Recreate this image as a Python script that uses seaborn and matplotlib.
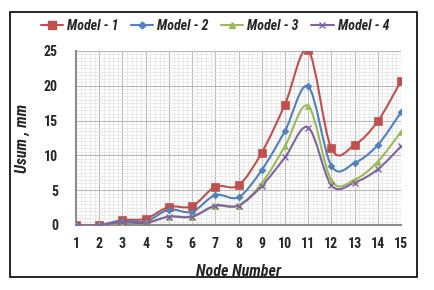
import numpy as np
import pandas as pd
import matplotlib
matplotlib.use('Agg')
import matplotlib.pyplot as plt
import seaborn as sns
from matplotlib.path import Path
from matplotlib.patches import PathPatch, Rectangle
from matplotlib.lines import Line2D
from matplotlib.ticker import MultipleLocator
from matplotlib.font_manager import FontProperties

nodes = list(range(1, 16))
model_1 = [0, 0, 0.7, 0.9, 2.6, 2.7, 5.5, 5.7, 10.4, 17.3, 25.1, 11.0, 11.5, 14.9, 20.7]
model_2 = [0, 0, 0.6, 0.5, 2.2, 1.9, 4.3, 4.0, 7.9, 13.5, 19.9, 8.5, 8.9, 11.5, 16.2]
model_3 = [0, 0, 0.3, 0.3, 1.2, 1.2, 2.7, 2.8, 6.0, 11.3, 17.1, 6.4, 6.5, 9.1, 13.4]
model_4 = [0, 0, 0.4, 0.3, 1.2, 1.2, 2.8, 2.8, 5.6, 9.7, 14.0, 5.7, 6.1, 8.0, 11.3]
labels = ['Model - 1', 'Model - 2', 'Model - 3', 'Model - 4']

colors = ['#C0504D', '#4F81BD', '#9BBB59', '#8064A2']
markers = ['s', 'D', '^', 'x']
msizes = [5.5, 3.5, 5, 5]

df = pd.DataFrame({'Node': nodes, labels[0]: model_1, labels[1]: model_2,
                   labels[2]: model_3, labels[3]: model_4})
long = df.melt(id_vars='Node', var_name='Model', value_name='Usum')

sns.set_style('white')
plt.rcParams['font.family'] = ['Roboto Condensed', 'DejaVu Sans']

fig = plt.figure(figsize=(4.34, 2.9), dpi=100)
fig.patches.append(Rectangle((10 / 434, 13 / 290), 407 / 434, 265 / 290,
                             transform=fig.transFigure, fill=False,
                             edgecolor='black', linewidth=1.2))
ax = fig.add_axes([76 / 434, 65 / 290, 325 / 434, 174 / 290])


def smooth_path(xs, ys):
    # Excel-like smoothed line through the points, as cubic bezier segments
    pts = np.column_stack([xs, ys]).astype(float)
    verts = [pts[0]]
    codes = [Path.MOVETO]
    n = len(pts)
    for i in range(n - 1):
        p0 = pts[max(i - 1, 0)]
        p1 = pts[i]
        p2 = pts[i + 1]
        p3 = pts[min(i + 2, n - 1)]
        c1 = p1 + (p2 - p0) / 6
        c2 = p2 - (p3 - p1) / 6
        verts += [c1, c2, p2]
        codes += [Path.CURVE4] * 3
    return Path(verts, codes)


handles = []
for lab, col, mk, ms in zip(labels, colors, markers, msizes):
    sub = long[long['Model'] == lab]
    ax.add_patch(PathPatch(smooth_path(sub['Node'], sub['Usum']), fill=False,
                           edgecolor=col, linewidth=1.5, zorder=3))
    handles.append(Line2D([], [], color=col, marker=mk, markersize=ms,
                          linewidth=1.5, label=lab))

for lab, col, mk, ms in zip(labels, colors, markers, msizes):
    sub = long[long['Model'] == lab]
    sns.lineplot(data=sub, x='Node', y='Usum', ax=ax, color=col, marker=mk,
                 markersize=ms, linestyle='', markeredgecolor=col,
                 markeredgewidth=1 if mk == 'x' else 0.5, zorder=4)

ax.set_xlim(1, 15)
ax.set_ylim(0, 25)
ax.xaxis.set_major_locator(MultipleLocator(1))
ax.xaxis.set_minor_locator(MultipleLocator(0.2))
ax.yaxis.set_major_locator(MultipleLocator(5))
ax.yaxis.set_minor_locator(MultipleLocator(0.5))
ax.grid(which='major', color='#b8b8b8', linewidth=0.8)
ax.grid(which='minor', color='#e6e6e6', linewidth=0.6)
ax.set_axisbelow(True)

for side in ['top', 'right']:
    ax.spines[side].set_visible(False)
for side in ['left', 'bottom']:
    ax.spines[side].set_color('#8c8c8c')
    ax.spines[side].set_linewidth(1.5)

ax.tick_params(which='major', length=4, color='#8c8c8c', direction='out')
ax.tick_params(axis='y', pad=9)
ax.tick_params(axis='x', pad=5)
ax.tick_params(which='minor', length=0)
tick_font = FontProperties(family='Roboto Condensed', weight='bold', size=10)
for t in ax.get_xticklabels() + ax.get_yticklabels():
    t.set_fontproperties(tick_font)

ax.set_xlabel('Node Number', fontsize=11.5, style='italic', weight='bold', labelpad=9)
ax.set_ylabel('Usum , mm', fontsize=11.5, style='italic', weight='bold', labelpad=10)

fig.legend(handles=handles, loc='center', bbox_to_anchor=(0.495, 0.912),
           ncol=4, frameon=False, handlelength=1.6, handletextpad=0.3,
           columnspacing=0.9,
           prop=FontProperties(family='Roboto Condensed', weight='bold',
                               style='italic', size=10))

fig.savefig('out.png', dpi=100)
